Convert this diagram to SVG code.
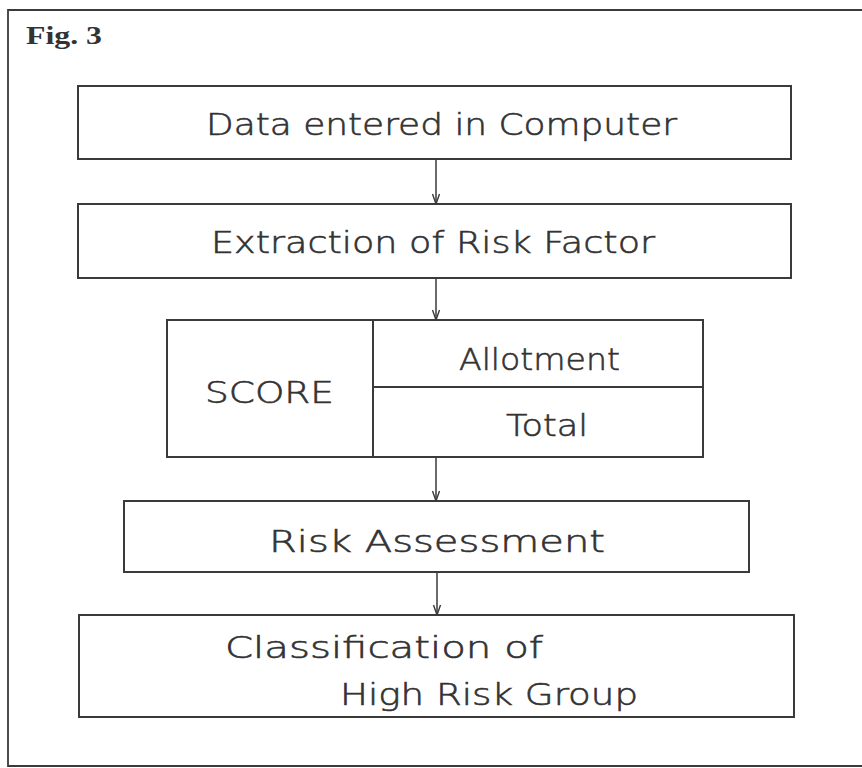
<svg xmlns="http://www.w3.org/2000/svg" width="862" height="768" viewBox="0 0 862 768">
  <style>
    .box { fill: none; stroke: #3a3a3a; stroke-width: 2; }
    .line { fill: none; stroke: #3a3a3a; stroke-width: 1.8; }
    .conn { fill: none; stroke: #3a3a3a; stroke-width: 1.5; }
    .lbl { font-family: "DejaVu Sans", "Liberation Sans", sans-serif; font-size: 31px; font-weight: 200; fill: #333; stroke: #333; stroke-width: 0.6; }
    .fig { font-family: "Liberation Serif", serif; font-size: 25px; font-weight: bold; fill: #333; }
  </style>
  <defs>
    <marker id="arr" viewBox="-1 -5 12 10" refX="10" refY="0" markerWidth="12" markerHeight="10" markerUnits="userSpaceOnUse" orient="auto">
      <path d="M0,-3.5 L10,0 L0,3.5" fill="none" stroke="#3a3a3a" stroke-width="1.4"/>
    </marker>
  </defs>
  <rect width="862" height="768" fill="#ffffff"/>
  <path class="line" d="M 864 10 L 8 10 L 8 766 L 864 766"/>
  <text class="fig" x="26" y="44" textLength="76" lengthAdjust="spacingAndGlyphs">Fig. 3</text>

  <g id="node-data">
    <rect class="box" x="78" y="86" width="713" height="73"/>
    <text class="lbl" x="206" y="135" textLength="471" lengthAdjust="spacingAndGlyphs">Data entered in Computer</text>
  </g>
  <g id="node-extraction">
    <rect class="box" x="78" y="204" width="713" height="74"/>
    <text class="lbl" x="211" y="253" textLength="444" lengthAdjust="spacingAndGlyphs">Extraction of Risk Factor</text>
  </g>
  <g id="node-score">
    <rect class="box" x="167" y="320" width="536" height="137"/>
    <line class="box" x1="373" y1="320" x2="373" y2="457"/>
    <line class="box" x1="373" y1="387" x2="703" y2="387"/>
    <text class="lbl" x="205" y="403" textLength="129" lengthAdjust="spacingAndGlyphs">SCORE</text>
    <text class="lbl" x="459" y="370" textLength="161" lengthAdjust="spacingAndGlyphs">Allotment</text>
    <text class="lbl" x="506" y="436" textLength="82" lengthAdjust="spacingAndGlyphs">Total</text>
  </g>
  <g id="node-risk">
    <rect class="box" x="124" y="501" width="625" height="71"/>
    <text class="lbl" x="269" y="552" textLength="336" lengthAdjust="spacingAndGlyphs">Risk Assessment</text>
  </g>
  <g id="node-class">
    <rect class="box" x="79" y="615" width="715" height="102"/>
    <text class="lbl" x="225" y="658" textLength="318" lengthAdjust="spacingAndGlyphs">Classification of</text>
    <text class="lbl" x="340" y="705" textLength="298" lengthAdjust="spacingAndGlyphs">High Risk Group</text>
  </g>

  <g id="connectors">
    <line class="conn" x1="436" y1="159" x2="436" y2="204" marker-end="url(#arr)"/>
    <line class="conn" x1="436" y1="278" x2="436" y2="320" marker-end="url(#arr)"/>
    <line class="conn" x1="436" y1="457" x2="436" y2="501" marker-end="url(#arr)"/>
    <line class="conn" x1="437" y1="572" x2="437" y2="615" marker-end="url(#arr)"/>
  </g>
</svg>
